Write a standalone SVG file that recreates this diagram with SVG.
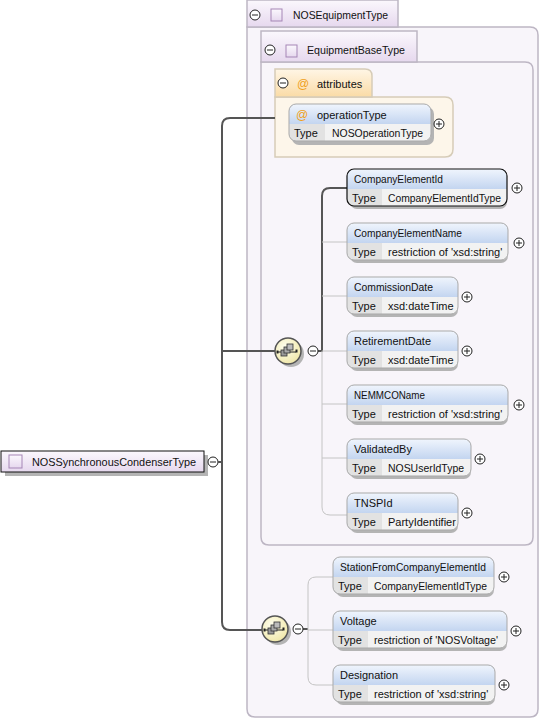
<svg xmlns="http://www.w3.org/2000/svg" width="543" height="720" viewBox="0 0 543 720">
<defs>
<linearGradient id="gLav" x1="0" y1="0" x2="0" y2="1"><stop offset="0" stop-color="#fbf8fd"/><stop offset="1" stop-color="#e6d8ee"/></linearGradient>
<linearGradient id="gHead" x1="0" y1="0" x2="0" y2="1"><stop offset="0" stop-color="#f0f5fd"/><stop offset="1" stop-color="#c3d5f0"/></linearGradient>
<linearGradient id="gAttr" x1="0" y1="0" x2="0" y2="1"><stop offset="0" stop-color="#fff6e6"/><stop offset="1" stop-color="#fadba6"/></linearGradient>
<radialGradient id="gSeq" cx="0.4" cy="0.35" r="0.7"><stop offset="0" stop-color="#fffff0"/><stop offset="1" stop-color="#efe6a6"/></radialGradient>
<g id="plus"><circle r="5" fill="#fff" stroke="#222" stroke-width="1"/><path d="M-3 0H3M0 -3V3" stroke="#222" stroke-width="1"/></g>
<g id="minus"><circle r="5" fill="#fff" stroke="#222" stroke-width="1"/><path d="M-3 0H3" stroke="#222" stroke-width="1"/></g>
<g id="seqglyph">
<path d="M-9 1H9" stroke="#222" stroke-width="1"/>
<rect x="-10.5" y="-0.5" width="2" height="3" fill="#222"/>
<rect x="8.5" y="-1.5" width="2" height="3" fill="#222"/>
<rect x="-6" y="-1" width="6" height="6" fill="#999" stroke="#333" stroke-width="0.8"/>
<rect x="-3" y="-4" width="6" height="6" fill="#aaa" stroke="#333" stroke-width="0.8"/>
<rect x="0" y="-7" width="6" height="6" fill="#bbb" stroke="#333" stroke-width="0.8"/>
</g>
</defs>
<style>
text{font-family:"Liberation Sans",Arial,sans-serif;font-size:11px;fill:#111}
.frame{fill:#f8f5fa;stroke:#bdb6c4;stroke-width:1.5}
.tab{fill:url(#gLav);stroke:#bdb6c4;stroke-width:1.5}
.sq{fill:url(#gLav);stroke:#a586b6;stroke-width:1}
.atab{fill:url(#gAttr);stroke:#d6ccb8;stroke-width:1.5}
.abox{fill:#fdf6ea;stroke:#d6ccb8;stroke-width:1.5}
.shadow{fill:#b4b4b4}
.head{fill:url(#gHead)}
.tl{fill:#e2e2e2}
.tv{fill:#f2f2f2}
.bd{fill:none;stroke:#a9a9a9;stroke-width:1}
.bdsel{fill:none;stroke:#111;stroke-width:1.2}
.dark{fill:none;stroke:#555;stroke-width:2}
.light{fill:none;stroke:#c4c4c4;stroke-width:1}
.at{fill:#f0a020;font-size:12px}
</style>

<g id="NOSEquipmentType">
<path class="frame" d="M247 27H530Q538 27 538 35V709Q538 717 530 717H255Q247 717 247 709Z"/>
<rect class="tab" x="247" y="0" width="151" height="27"/>
<use href="#minus" x="255" y="15"/>
<rect class="sq" x="271" y="9" width="11" height="12"/>
<text x="293" y="19" textLength="95" lengthAdjust="spacingAndGlyphs">NOSEquipmentType</text>
</g>

<g id="EquipmentBaseType">
<path class="frame" d="M261 62H525Q533 62 533 70V537Q533 545 525 545H269Q261 545 261 537Z"/>
<rect class="tab" x="261" y="31" width="156" height="31"/>
<use href="#minus" x="270" y="50"/>
<rect class="sq" x="286" y="45" width="11" height="12"/>
<text x="307" y="54" textLength="98" lengthAdjust="spacingAndGlyphs">EquipmentBaseType</text>
</g>

<g id="attributes">
<path class="abox" d="M275 97H445Q453 97 453 105V149Q453 157 445 157H275Z"/>
<path class="atab" d="M275 69H365Q372 69 372 76V97H275Z"/>
<use href="#minus" x="283" y="83"/>
<text class="at" x="297" y="88">@</text>
<text x="317" y="88">attributes</text>
</g>

<g id="operationType">
<rect class="shadow" x="292" y="107" width="142" height="38" rx="7"/>
<path class="head" d="M296 104H424Q431 104 431 111V124H289V111Q289 104 296 104Z"/>
<path class="tl" d="M289 124H325V141H296Q289 141 289 134Z"/>
<path class="tv" d="M325 124H431V134Q431 141 424 141H325Z"/>
<rect class="bd" x="289" y="104" width="142" height="37" rx="7"/>
<text class="at" x="296" y="119">@</text>
<text x="317" y="119">operationType</text>
<text x="294" y="137">Type</text>
<text x="332" y="137" textLength="91" lengthAdjust="spacingAndGlyphs">NOSOperationType</text>
<use href="#plus" x="439" y="124"/>
</g>

<g id="NOSSynchronousCondenserType">
<rect class="shadow" x="5" y="455" width="203" height="21"/>
<rect x="1" y="451" width="203" height="21" fill="url(#gLav)" stroke="#111" stroke-width="1"/>
<rect class="sq" x="9" y="455" width="13" height="13"/>
<text x="32" y="466" textLength="164" lengthAdjust="spacingAndGlyphs">NOSSynchronousCondenserType</text>
<use href="#minus" x="213" y="462"/>
</g>

<g id="connectors">
<path class="dark" d="M218 462H222"/>
<path class="dark" d="M275 118H230Q222 118 222 126V622Q222 630 230 630H262"/>
<path class="dark" d="M222 351H275"/>
<path class="dark" d="M318 351H322V196Q322 188 330 188H347"/>
<path class="light" d="M322 351V507Q322 515 330 515H347"/>
<path class="light" d="M322 242H347M322 296H347M322 351H347M322 404H347M322 458H347"/>
<path class="dark" d="M303 629H308" stroke-width="1"/>
<path class="light" d="M308 629V585Q308 577 316 577H333M308 629V677Q308 685 316 685H333M308 630H333"/>
</g>

<g id="seq1">
<circle cx="291" cy="354" r="13" fill="#b4b4b4"/>
<circle cx="288" cy="351" r="13" fill="url(#gSeq)" stroke="#555" stroke-width="1.5"/>
<use href="#seqglyph" x="287" y="351"/>
<use href="#minus" x="313" y="351"/>
</g>

<g id="seq2">
<circle cx="278" cy="632" r="13" fill="#b4b4b4"/>
<circle cx="275" cy="629" r="13" fill="url(#gSeq)" stroke="#555" stroke-width="1.5"/>
<use href="#seqglyph" x="274" y="629"/>
<use href="#minus" x="298" y="629"/>
</g>

<g id="CompanyElementId">
<rect class="shadow" x="350" y="172" width="157" height="37" rx="7"/>
<path class="head" d="M354 169H500Q507 169 507 176V189H347V176Q347 169 354 169Z"/>
<path class="tl" d="M347 189H382V206H354Q347 206 347 199Z"/>
<path class="tv" d="M382 189H507V199Q507 206 500 206H382Z"/>
<rect class="bdsel" x="347" y="169" width="160" height="37" rx="7"/>
<text x="354" y="183" textLength="89" lengthAdjust="spacingAndGlyphs">CompanyElementId</text>
<text x="352" y="202">Type</text>
<text x="388" y="202" textLength="113" lengthAdjust="spacingAndGlyphs">CompanyElementIdType</text>
<use href="#plus" x="517" y="188"/>
</g>

<g id="CompanyElementName">
<rect class="shadow" x="350" y="226" width="158" height="37" rx="7"/>
<path class="head" d="M354 223H501Q508 223 508 230V243H347V230Q347 223 354 223Z"/>
<path class="tl" d="M347 243H382V260H354Q347 260 347 253Z"/>
<path class="tv" d="M382 243H508V253Q508 260 501 260H382Z"/>
<rect class="bd" x="347" y="223" width="161" height="37" rx="7"/>
<text x="354" y="237" textLength="108" lengthAdjust="spacingAndGlyphs">CompanyElementName</text>
<text x="352" y="256">Type</text>
<text x="388" y="256">restriction of 'xsd:string'</text>
<use href="#plus" x="519" y="243"/>
</g>

<g id="CommissionDate">
<rect class="shadow" x="350" y="280" width="108" height="37" rx="7"/>
<path class="head" d="M354 277H451Q458 277 458 284V297H347V284Q347 277 354 277Z"/>
<path class="tl" d="M347 297H382V314H354Q347 314 347 307Z"/>
<path class="tv" d="M382 297H458V307Q458 314 451 314H382Z"/>
<rect class="bd" x="347" y="277" width="111" height="37" rx="7"/>
<text x="354" y="291" textLength="79" lengthAdjust="spacingAndGlyphs">CommissionDate</text>
<text x="352" y="310">Type</text>
<text x="388" y="310">xsd:dateTime</text>
<use href="#plus" x="467" y="297"/>
</g>

<g id="RetirementDate">
<rect class="shadow" x="350" y="334" width="108" height="37" rx="7"/>
<path class="head" d="M354 331H451Q458 331 458 338V351H347V338Q347 331 354 331Z"/>
<path class="tl" d="M347 351H382V368H354Q347 368 347 361Z"/>
<path class="tv" d="M382 351H458V361Q458 368 451 368H382Z"/>
<rect class="bd" x="347" y="331" width="111" height="37" rx="7"/>
<text x="354" y="345">RetirementDate</text>
<text x="352" y="364">Type</text>
<text x="388" y="364">xsd:dateTime</text>
<use href="#plus" x="467" y="351"/>
</g>

<g id="NEMMCOName">
<rect class="shadow" x="350" y="388" width="158" height="37" rx="7"/>
<path class="head" d="M354 385H501Q508 385 508 392V405H347V392Q347 385 354 385Z"/>
<path class="tl" d="M347 405H382V422H354Q347 422 347 415Z"/>
<path class="tv" d="M382 405H508V415Q508 422 501 422H382Z"/>
<rect class="bd" x="347" y="385" width="161" height="37" rx="7"/>
<text x="354" y="399" textLength="71" lengthAdjust="spacingAndGlyphs">NEMMCOName</text>
<text x="352" y="418">Type</text>
<text x="388" y="418">restriction of 'xsd:string'</text>
<use href="#plus" x="519" y="405"/>
</g>

<g id="ValidatedBy">
<rect class="shadow" x="350" y="442" width="121" height="37" rx="7"/>
<path class="head" d="M354 439H464Q471 439 471 446V459H347V446Q347 439 354 439Z"/>
<path class="tl" d="M347 459H382V476H354Q347 476 347 469Z"/>
<path class="tv" d="M382 459H471V469Q471 476 464 476H382Z"/>
<rect class="bd" x="347" y="439" width="124" height="37" rx="7"/>
<text x="354" y="453">ValidatedBy</text>
<text x="352" y="472">Type</text>
<text x="388" y="472" textLength="76" lengthAdjust="spacingAndGlyphs">NOSUserIdType</text>
<use href="#plus" x="480" y="459"/>
</g>

<g id="TNSPId">
<rect class="shadow" x="350" y="496" width="108" height="37" rx="7"/>
<path class="head" d="M354 493H451Q458 493 458 500V513H347V500Q347 493 354 493Z"/>
<path class="tl" d="M347 513H382V530H354Q347 530 347 523Z"/>
<path class="tv" d="M382 513H458V523Q458 530 451 530H382Z"/>
<rect class="bd" x="347" y="493" width="111" height="37" rx="7"/>
<text x="354" y="507">TNSPId</text>
<text x="352" y="526">Type</text>
<text x="388" y="526">PartyIdentifier</text>
<use href="#plus" x="467" y="513"/>
</g>

<g id="StationFromCompanyElementId">
<rect class="shadow" x="336" y="560" width="158" height="37" rx="7"/>
<path class="head" d="M340 557H487Q494 557 494 564V577H333V564Q333 557 340 557Z"/>
<path class="tl" d="M333 577H368V594H340Q333 594 333 587Z"/>
<path class="tv" d="M368 577H494V587Q494 594 487 594H368Z"/>
<rect class="bd" x="333" y="557" width="161" height="37" rx="7"/>
<text x="340" y="571" textLength="146" lengthAdjust="spacingAndGlyphs">StationFromCompanyElementId</text>
<text x="338" y="590">Type</text>
<text x="374" y="590" textLength="113" lengthAdjust="spacingAndGlyphs">CompanyElementIdType</text>
<use href="#plus" x="504" y="577"/>
</g>

<g id="Voltage">
<rect class="shadow" x="336" y="614" width="171" height="37" rx="7"/>
<path class="head" d="M340 611H500Q507 611 507 618V631H333V618Q333 611 340 611Z"/>
<path class="tl" d="M333 631H368V648H340Q333 648 333 641Z"/>
<path class="tv" d="M368 631H507V641Q507 648 500 648H368Z"/>
<rect class="bd" x="333" y="611" width="174" height="37" rx="7"/>
<text x="340" y="625">Voltage</text>
<text x="338" y="644">Type</text>
<text x="374" y="644" textLength="124" lengthAdjust="spacingAndGlyphs">restriction of 'NOSVoltage'</text>
<use href="#plus" x="516" y="631"/>
</g>

<g id="Designation">
<rect class="shadow" x="336" y="668" width="159" height="37" rx="7"/>
<path class="head" d="M340 665H488Q495 665 495 672V685H333V672Q333 665 340 665Z"/>
<path class="tl" d="M333 685H368V702H340Q333 702 333 695Z"/>
<path class="tv" d="M368 685H495V695Q495 702 488 702H368Z"/>
<rect class="bd" x="333" y="665" width="162" height="37" rx="7"/>
<text x="340" y="679">Designation</text>
<text x="338" y="698">Type</text>
<text x="374" y="698">restriction of 'xsd:string'</text>
<use href="#plus" x="504" y="685"/>
</g>
</svg>
